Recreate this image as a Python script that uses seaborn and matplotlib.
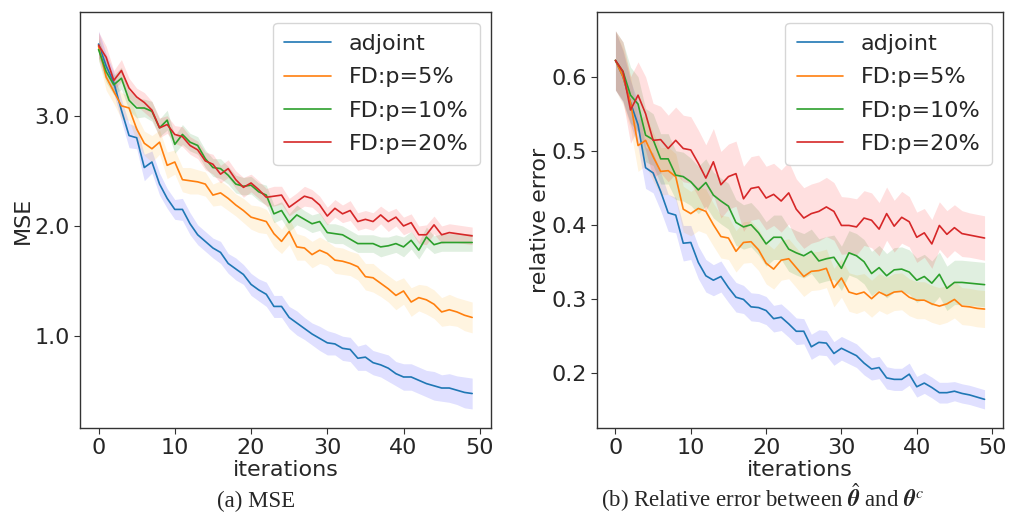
import numpy as np
import pandas as pd
import matplotlib
matplotlib.use("Agg")
import matplotlib.pyplot as plt
import seaborn as sns

iterations = list(range(50))
series_names = ["adjoint", "FD:p=5%", "FD:p=10%", "FD:p=20%"]
line_colors = ["#1f77b4", "#ff7f0e", "#2ca02c", "#d62728"]
band_colors = ["blue", "orange", "green", "red"]

# ---- (a) MSE ----
mse_adjoint = [3.65, 3.45, 3.30, 3.05, 2.82, 2.80, 2.53, 2.58, 2.38, 2.25,
               2.15, 2.15, 2.02, 1.92, 1.86, 1.80, 1.76, 1.66, 1.61, 1.56,
               1.47, 1.42, 1.38, 1.27, 1.27, 1.17, 1.12, 1.07, 1.02, 0.98,
               0.94, 0.93, 0.89, 0.88, 0.80, 0.81, 0.76, 0.74, 0.71, 0.66,
               0.63, 0.63, 0.60, 0.57, 0.55, 0.53, 0.53, 0.51, 0.49, 0.48]
mse_fd5 = [3.63, 3.35, 3.22, 3.09, 3.07, 2.88, 2.75, 2.70, 2.76, 2.55,
           2.58, 2.42, 2.41, 2.40, 2.38, 2.28, 2.30, 2.25, 2.19, 2.14,
           2.08, 2.06, 2.04, 1.93, 1.86, 1.95, 1.81, 1.80, 1.74, 1.78,
           1.75, 1.69, 1.68, 1.66, 1.63, 1.54, 1.53, 1.48, 1.43, 1.37,
           1.41, 1.31, 1.35, 1.33, 1.29, 1.22, 1.24, 1.22, 1.19, 1.17]
mse_fd10 = [3.60, 3.40, 3.28, 3.34, 3.14, 3.07, 3.07, 3.04, 2.89, 2.96,
            2.74, 2.83, 2.76, 2.73, 2.61, 2.53, 2.52, 2.46, 2.38, 2.36,
            2.37, 2.31, 2.28, 2.11, 2.14, 2.03, 2.10, 2.06, 2.02, 2.04,
            1.94, 1.93, 1.92, 1.88, 1.84, 1.84, 1.84, 1.81, 1.82, 1.84,
            1.81, 1.87, 1.78, 1.90, 1.83, 1.85, 1.85, 1.85, 1.85, 1.85]
mse_fd20 = [3.64, 3.53, 3.32, 3.41, 3.25, 3.17, 3.12, 3.05, 2.89, 2.92,
            2.83, 2.81, 2.73, 2.69, 2.59, 2.56, 2.47, 2.52, 2.42, 2.35,
            2.39, 2.33, 2.26, 2.27, 2.28, 2.17, 2.22, 2.27, 2.25, 2.19,
            2.09, 2.16, 2.11, 2.14, 2.04, 2.06, 2.04, 2.10, 2.04, 2.08,
            2.00, 2.03, 1.92, 1.92, 2.01, 1.92, 1.94, 1.93, 1.92, 1.91]

mse_adjoint_sd = [0.12, 0.11, 0.10, 0.10, 0.11, 0.10, 0.12, 0.10, 0.10, 0.09,
                  0.09, 0.10, 0.10, 0.09, 0.09, 0.09, 0.10, 0.09, 0.10, 0.09,
                  0.10, 0.10, 0.11, 0.10, 0.10, 0.10, 0.11, 0.10, 0.10, 0.11,
                  0.11, 0.10, 0.11, 0.11, 0.11, 0.12, 0.11, 0.11, 0.12, 0.11,
                  0.12, 0.12, 0.12, 0.12, 0.13, 0.12, 0.13, 0.13, 0.14, 0.14]
mse_fd5_sd = [0.12, 0.12, 0.11, 0.12, 0.11, 0.12, 0.11, 0.12, 0.11, 0.12,
              0.11, 0.11, 0.12, 0.11, 0.11, 0.10, 0.11, 0.11, 0.10, 0.11,
              0.11, 0.12, 0.11, 0.12, 0.11, 0.12, 0.12, 0.11, 0.12, 0.12,
              0.11, 0.12, 0.12, 0.11, 0.12, 0.12, 0.13, 0.12, 0.12, 0.13,
              0.12, 0.13, 0.12, 0.13, 0.13, 0.13, 0.14, 0.13, 0.14, 0.14]
mse_fd10_sd = [0.10, 0.10, 0.09, 0.10, 0.09, 0.09, 0.08, 0.09, 0.08, 0.09,
               0.08, 0.09, 0.08, 0.08, 0.08, 0.08, 0.09, 0.08, 0.08, 0.08,
               0.08, 0.08, 0.09, 0.08, 0.08, 0.08, 0.09, 0.08, 0.08, 0.08,
               0.08, 0.09, 0.08, 0.08, 0.08, 0.08, 0.08, 0.09, 0.08, 0.08,
               0.09, 0.08, 0.08, 0.09, 0.08, 0.08, 0.08, 0.08, 0.08, 0.08]
mse_fd20_sd = [0.12, 0.10, 0.09, 0.10, 0.09, 0.08, 0.09, 0.08, 0.09, 0.08,
               0.08, 0.09, 0.08, 0.08, 0.08, 0.09, 0.08, 0.08, 0.08, 0.09,
               0.08, 0.08, 0.08, 0.09, 0.08, 0.08, 0.08, 0.09, 0.08, 0.08,
               0.08, 0.08, 0.08, 0.09, 0.08, 0.08, 0.08, 0.08, 0.09, 0.08,
               0.08, 0.08, 0.08, 0.09, 0.08, 0.08, 0.08, 0.08, 0.08, 0.08]

# ---- (b) relative error ----
rel_adjoint = [0.622, 0.600, 0.565, 0.535, 0.477, 0.470, 0.445, 0.416, 0.413, 0.375,
               0.376, 0.349, 0.331, 0.325, 0.330, 0.315, 0.302, 0.299, 0.289, 0.288,
               0.284, 0.273, 0.275, 0.266, 0.256, 0.256, 0.235, 0.241, 0.240, 0.226,
               0.233, 0.228, 0.223, 0.213, 0.205, 0.207, 0.193, 0.191, 0.191, 0.198,
               0.181, 0.186, 0.180, 0.173, 0.173, 0.175, 0.172, 0.170, 0.167, 0.164]
rel_fd5 = [0.622, 0.600, 0.565, 0.507, 0.514, 0.492, 0.472, 0.473, 0.465, 0.421,
           0.415, 0.422, 0.418, 0.400, 0.384, 0.382, 0.364, 0.376, 0.377, 0.366,
           0.348, 0.340, 0.352, 0.354, 0.342, 0.330, 0.337, 0.338, 0.341, 0.315,
           0.328, 0.309, 0.306, 0.309, 0.300, 0.309, 0.304, 0.309, 0.310, 0.302,
           0.298, 0.298, 0.293, 0.290, 0.293, 0.299, 0.290, 0.289, 0.287, 0.286]
rel_fd10 = [0.622, 0.607, 0.575, 0.563, 0.521, 0.515, 0.489, 0.489, 0.467, 0.465,
            0.458, 0.447, 0.457, 0.440, 0.432, 0.425, 0.403, 0.397, 0.400, 0.389,
            0.374, 0.383, 0.383, 0.367, 0.362, 0.358, 0.364, 0.351, 0.354, 0.356,
            0.341, 0.362, 0.358, 0.350, 0.334, 0.342, 0.331, 0.339, 0.340, 0.336,
            0.325, 0.330, 0.321, 0.333, 0.314, 0.322, 0.322, 0.321, 0.320, 0.319]
rel_fd20 = [0.622, 0.607, 0.555, 0.575, 0.550, 0.514, 0.515, 0.503, 0.514, 0.503,
            0.501, 0.483, 0.463, 0.485, 0.454, 0.465, 0.469, 0.435, 0.449, 0.451,
            0.436, 0.441, 0.432, 0.443, 0.421, 0.409, 0.415, 0.418, 0.424, 0.418,
            0.399, 0.399, 0.397, 0.409, 0.406, 0.394, 0.415, 0.398, 0.410, 0.404,
            0.383, 0.389, 0.374, 0.399, 0.387, 0.396, 0.388, 0.386, 0.384, 0.382]

rel_adjoint_sd = [0.040, 0.035, 0.030, 0.030, 0.028, 0.027, 0.026, 0.025, 0.024, 0.024,
                  0.023, 0.022, 0.022, 0.021, 0.021, 0.020, 0.020, 0.019, 0.019, 0.019,
                  0.019, 0.018, 0.018, 0.018, 0.018, 0.017, 0.017, 0.017, 0.017, 0.016,
                  0.016, 0.016, 0.016, 0.016, 0.015, 0.015, 0.015, 0.015, 0.015, 0.015,
                  0.014, 0.014, 0.014, 0.014, 0.014, 0.013, 0.013, 0.013, 0.013, 0.013]
rel_fd5_sd = [0.040, 0.038, 0.036, 0.035, 0.034, 0.033, 0.032, 0.032, 0.031, 0.031,
              0.030, 0.030, 0.030, 0.029, 0.029, 0.029, 0.028, 0.028, 0.028, 0.028,
              0.028, 0.027, 0.027, 0.027, 0.027, 0.027, 0.026, 0.026, 0.026, 0.026,
              0.026, 0.026, 0.026, 0.025, 0.025, 0.025, 0.025, 0.025, 0.025, 0.025,
              0.025, 0.025, 0.025, 0.025, 0.025, 0.025, 0.025, 0.025, 0.025, 0.025]
rel_fd10_sd = [0.040, 0.040, 0.038, 0.037, 0.036, 0.035, 0.034, 0.034, 0.033, 0.033,
               0.032, 0.032, 0.032, 0.031, 0.031, 0.031, 0.031, 0.030, 0.030, 0.030,
               0.030, 0.030, 0.030, 0.030, 0.030, 0.030, 0.030, 0.030, 0.030, 0.030,
               0.030, 0.030, 0.030, 0.030, 0.030, 0.030, 0.030, 0.030, 0.030, 0.030,
               0.030, 0.030, 0.030, 0.030, 0.030, 0.030, 0.030, 0.030, 0.030, 0.030]
rel_fd20_sd = [0.040, 0.040, 0.045, 0.045, 0.050, 0.050, 0.045, 0.045, 0.045, 0.045,
               0.045, 0.045, 0.045, 0.045, 0.045, 0.044, 0.044, 0.044, 0.043, 0.043,
               0.043, 0.042, 0.042, 0.042, 0.041, 0.041, 0.040, 0.040, 0.040, 0.039,
               0.039, 0.038, 0.038, 0.037, 0.037, 0.036, 0.036, 0.035, 0.035, 0.034,
               0.034, 0.033, 0.033, 0.032, 0.032, 0.031, 0.031, 0.030, 0.030, 0.030]

sns.set_theme(style="ticks")
plt.rcParams["font.family"] = ["DejaVu Sans"]
plt.rcParams["mathtext.fontset"] = "stix"

fig = plt.figure(figsize=(10.11, 5.18), dpi=100)
ax1 = fig.add_axes([0.079, 0.174, 0.4065, 0.803])
ax2 = fig.add_axes([0.5905, 0.174, 0.4016, 0.803])

panels = [
    (ax1, [mse_adjoint, mse_fd5, mse_fd10, mse_fd20],
     [mse_adjoint_sd, mse_fd5_sd, mse_fd10_sd, mse_fd20_sd], "MSE"),
    (ax2, [rel_adjoint, rel_fd5, rel_fd10, rel_fd20],
     [rel_adjoint_sd, rel_fd5_sd, rel_fd10_sd, rel_fd20_sd], "relative error"),
]

for ax, means, sds, ylab in panels:
    for name, m, s, lc, bc in zip(series_names, means, sds, line_colors, band_colors):
        m = np.array(m)
        s = np.array(s)
        ax.fill_between(iterations, m - s, m + s, color=bc, alpha=0.12, linewidth=0)
        sns.lineplot(x=iterations, y=m, ax=ax, color=lc, label=name, linewidth=1.2)
    ax.set_xlabel("iterations", fontsize=16, labelpad=1)
    ax.set_ylabel(ylab, fontsize=16, labelpad=1)
    ax.set_xticks([0, 10, 20, 30, 40, 50])
    ax.tick_params(labelsize=16, length=4, width=0.8, color="#333333")
    for sp in ax.spines.values():
        sp.set_color("#333333")
        sp.set_linewidth(1.0)
    leg = ax.legend(loc="upper right", fontsize=16, handlelength=2.1,
                    handletextpad=0.8, borderpad=0.5, labelspacing=0.6)

ax1.set_yticks([1.0, 2.0, 3.0])
ax1.set_yticklabels(["1.0", "2.0", "3.0"])
ax2.set_yticks([0.2, 0.3, 0.4, 0.5, 0.6])
ax2.set_yticklabels(["0.2", "0.3", "0.4", "0.5", "0.6"])

fig.text(0.253, 0.022, "(a) MSE", ha="center", va="baseline",
         fontsize=16.5, family="Liberation Serif")
fig.text(0.754, 0.022,
         r"(b) Relative error between $\hat{\mathbfit{\theta}}$ and $\mathbfit{\theta}^c$",
         ha="center", va="baseline", fontsize=16.5, family="Liberation Serif")

fig.savefig("out.png", dpi=100)
